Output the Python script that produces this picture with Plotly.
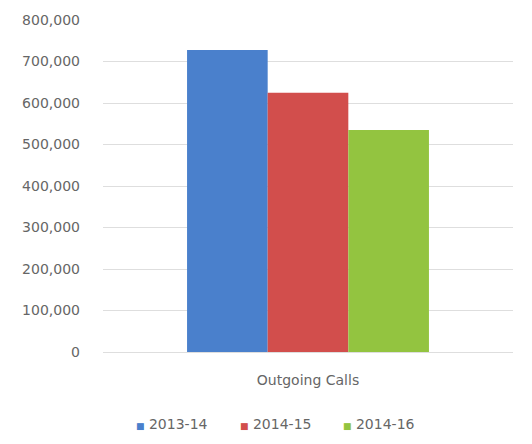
import plotly.graph_objects as go

categories = ["Outgoing Calls"]
series_names = ["2013-14", "2014-15", "2014-16"]
series_values = [[728000], [625000], [535000]]
series_colors = ["#4a80cc", "#d24e4c", "#93c440"]
tick_vals = [0, 100000, 200000, 300000, 400000, 500000, 600000, 700000, 800000]
tick_text = ["0", "100,000", "200,000", "300,000", "400,000", "500,000",
             "600,000", "700,000", "800,000"]

font_family = "'DejaVu Sans', sans-serif"
text_color = "#666666"

fig = go.Figure()
for name, vals, color in zip(series_names, series_values, series_colors):
    fig.add_trace(go.Bar(x=categories, y=vals, name=name, showlegend=False,
                         marker=dict(color=color, line=dict(width=0))))

# compact legend row below the axis: small coloured square + series name
legend_x = [0.075, 0.330, 0.580]
for name, color, lx in zip(series_names, series_colors, legend_x):
    fig.add_annotation(
        xref="paper", yref="paper", x=lx, y=-0.218,
        xanchor="left", yanchor="middle", showarrow=False,
        text=f'<span style="color:{color};font-size:9px">■</span> {name}',
        font=dict(family=font_family, size=14, color=text_color),
    )

fig.update_layout(
    width=532, height=444,
    margin=dict(l=103, r=19, t=17, b=92),
    paper_bgcolor="white", plot_bgcolor="white",
    barmode="group", bargap=0.41, bargroupgap=0,
    font=dict(family=font_family, size=14, color=text_color),
    showlegend=False,
    xaxis=dict(showgrid=False, showline=False, ticks="",
               ticklabelstandoff=18, tickfont=dict(size=14)),
    yaxis=dict(range=[0, 800000], tickvals=tick_vals, ticktext=tick_text,
               showgrid=True, gridcolor="#dedede", gridwidth=1,
               zeroline=True, zerolinecolor="#dedede", zerolinewidth=1,
               showline=False, ticks="", ticklabelstandoff=22,
               tickfont=dict(size=14)),
)

fig.write_html("out.html")
